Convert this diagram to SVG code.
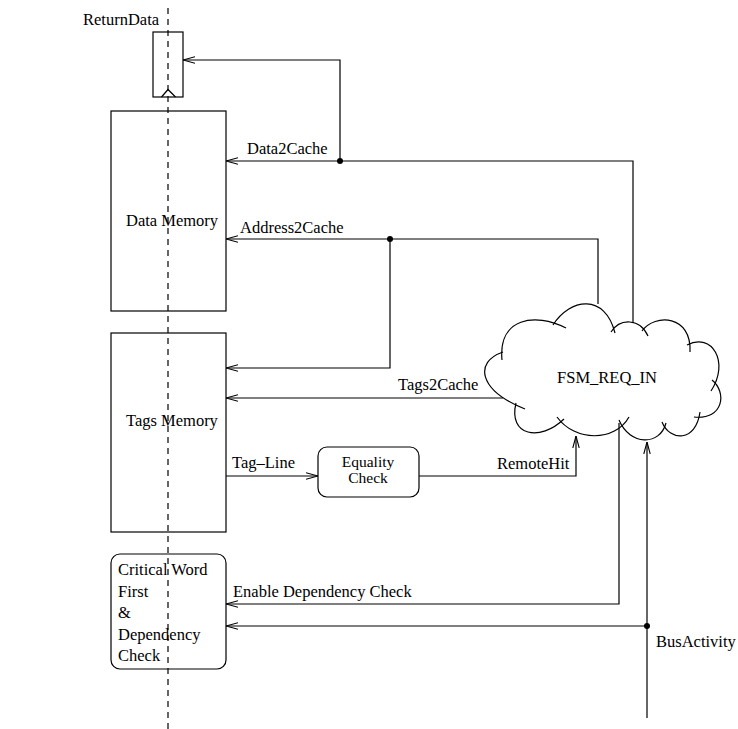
<svg xmlns="http://www.w3.org/2000/svg" width="738" height="729" viewBox="0 0 738 729">
<style>
text{font-family:"Liberation Serif","Times New Roman",serif;font-size:16.5px;fill:#000}
.box{fill:none;stroke:#000;stroke-width:1.2}
.ln{fill:none;stroke:#000;stroke-width:1.2}
.cl{fill:none;stroke:#000;stroke-width:1.2}
.dash{fill:none;stroke:#000;stroke-width:1.2;stroke-dasharray:6,5}
.sm{font-size:15.5px}
</style>
<defs>
<marker id="arr" viewBox="0 0 12 8" refX="12" refY="4" markerWidth="12" markerHeight="8" markerUnits="userSpaceOnUse" orient="auto">
<path d="M0,0.8 L12,4 L0,7.2" fill="none" stroke="#000" stroke-width="1.1"/>
</marker>
</defs>
<rect width="738" height="729" fill="#fff"/>

<g id="returndata">
<rect class="box" x="153" y="32" width="30" height="65"/>
<polyline class="ln" points="161.5,97 168,89.5 175.5,97"/>
<text x="83" y="25">ReturnData</text>
</g>

<g id="data-memory">
<rect class="box" x="111" y="111" width="115" height="200"/>
<text x="126" y="226">Data Memory</text>
</g>

<g id="tags-memory">
<rect class="box" x="111" y="333" width="115" height="199"/>
<text x="126" y="426">Tags Memory</text>
</g>

<g id="equality-check">
<rect class="box" x="318" y="447" width="101" height="50" rx="9"/>
<text class="sm" x="368" y="467" text-anchor="middle">Equality</text>
<text class="sm" x="368" y="483" text-anchor="middle">Check</text>
</g>

<g id="critical-word">
<rect class="box" x="111" y="554" width="115" height="115" rx="9"/>
<text x="118" y="575">Critical Word</text>
<text x="118" y="597">First</text>
<text x="118" y="618">&amp;</text>
<text x="118" y="640">Dependency</text>
<text x="118" y="661">Check</text>
</g>

<g id="fsm-req-in">
<path class="cl" d="M525,409 C478,390 474,362 503,352"/>
<path class="cl" d="M502,360 C498,318 535,312 566,328"/>
<path class="cl" d="M553,325 C570,298 605,293 615,333"/>
<path class="cl" d="M611,332 C620,318 640,318 648,336"/>
<path class="cl" d="M642,331 C655,313 692,315 690,352"/>
<path class="cl" d="M687,345 C712,332 730,362 711,391"/>
<path class="cl" d="M712,380 C727,392 724,420 694,417"/>
<path class="cl" d="M700,412 C696,442 670,442 662,422"/>
<path class="cl" d="M666,423 C660,446 630,446 619,420"/>
<path class="cl" d="M629,417 C615,442 575,442 557,417"/>
<path class="cl" d="M564,419 C540,442 508,436 516,403"/>
<text x="607" y="383" text-anchor="middle">FSM_REQ_IN</text>
</g>

<g id="connectors">
<line class="dash" x1="168" y1="8" x2="168" y2="729"/>
<polyline class="ln" points="633,323 633,161 226,161" marker-end="url(#arr)"/>
<polyline class="ln" points="340,161 340,60 183,60" marker-end="url(#arr)"/>
<circle cx="340" cy="161" r="3"/>
<polyline class="ln" points="598,304 598,239 226,239" marker-end="url(#arr)"/>
<polyline class="ln" points="390,239 390,368 226,368" marker-end="url(#arr)"/>
<circle cx="390" cy="239" r="3"/>
<line class="ln" x1="503" y1="398" x2="226" y2="398" marker-end="url(#arr)"/>
<line class="ln" x1="226" y1="476" x2="318" y2="476" marker-end="url(#arr)"/>
<polyline class="ln" points="419,476 576,476 576,436" marker-end="url(#arr)"/>
<polyline class="ln" points="619,423 619,604 226,604" marker-end="url(#arr)"/>
<line class="ln" x1="647" y1="718" x2="647" y2="442" marker-end="url(#arr)"/>
<line class="ln" x1="647" y1="626" x2="226" y2="626" marker-end="url(#arr)"/>
<circle cx="647" cy="626" r="3"/>
<text x="247" y="154">Data2Cache</text>
<text x="240" y="233">Address2Cache</text>
<text x="398" y="390">Tags2Cache</text>
<text x="232" y="468">Tag–Line</text>
<text x="497" y="469">RemoteHit</text>
<text x="233" y="597">Enable Dependency Check</text>
<text x="656" y="647">BusActivity</text>
</g>
</svg>
